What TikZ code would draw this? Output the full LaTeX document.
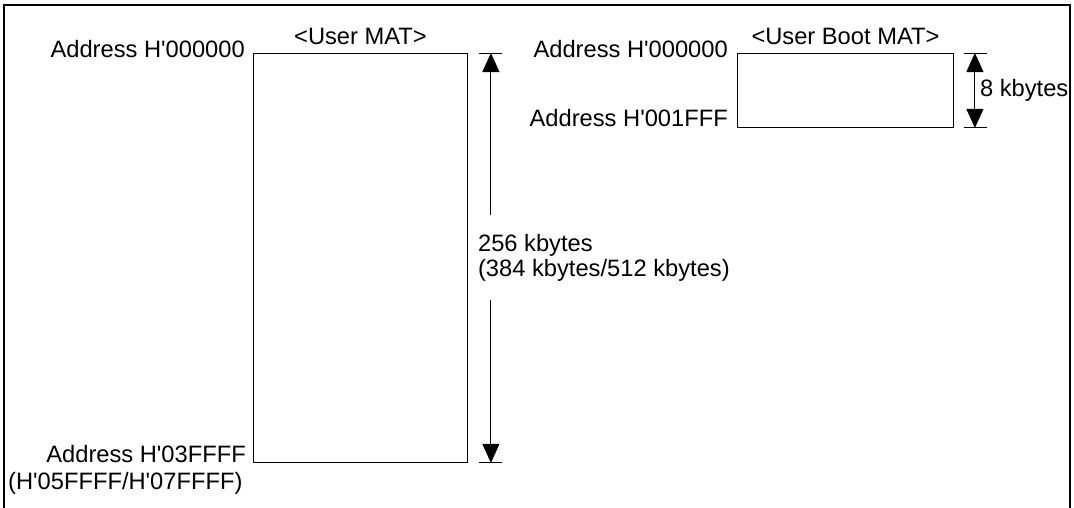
\documentclass[tikz,border=0pt]{standalone}
\usepackage{fontspec}
\setmainfont{Liberation Sans}[Ligatures=TeXOff]
\usetikzlibrary{arrows.meta, positioning, calc}

\begin{document}
\begin{tikzpicture}[
    x=1pt, y=-1pt,
    mat/.style={rectangle, draw=black, line width=0.9pt, inner sep=0pt, anchor=north west, minimum width=#1},
    lbl/.style={font=\fontsize{23.7}{24.5}\selectfont, inner sep=0pt},
    tick/.style={line width=0.9pt, draw=black},
    dim/.style={-{Triangle[length=19pt, width=17pt]}, line width=0.9pt, draw=black},
]
\useasboundingbox (0,0) rectangle (1074,507);
\draw[line width=2pt] (4,530) -- (4,5) -- (1070,5) -- (1070,530);

% user MAT
\node[mat=214pt, minimum height=409pt] (umat) at (253,53) {};
\node[lbl, above=8pt of umat.north] (umatT) {<User MAT>};
\node[lbl, anchor=base east] (uadr0) at ($(umat.north west)+(-8,4)$) {Address H'000000};
\node[lbl, anchor=base east] (uadr1) at ($(umat.south west)+(-7,0)$) {Address H'03FFFF};
\node[lbl, anchor=base west] (uadr1b) at ($(umat.south west)+(-245,27)$) {(H'05FFFF/H'07FFFF)};

% user MAT size
\coordinate (uT) at ($(umat.north east)+(23,0)$);
\coordinate (uB) at ($(umat.south east)+(23,0)$);
\node[lbl, align=left, anchor=west] (usize) at ($(umat.east)+(10,0)$) {256 kbytes\\(384 kbytes/512 kbytes)};
\coordinate (uGapT) at (uT |- usize.north);
\coordinate (uGapB) at (uB |- usize.south);
\draw[tick] ($(uT)+(-12,0)$) -- ($(uT)+(11,0)$);
\draw[tick] ($(uB)+(-12,0)$) -- ($(uB)+(11,0)$);
\draw[dim] ($(uGapT)+(0,-19)$) -- (uT);
\draw[dim] ($(uGapB)+(0,19)$) -- (uB);

% user boot MAT
\node[mat=216pt, minimum height=74pt] (bmat) at (737,53) {};
\node[lbl, above=8pt of bmat.north] (bmatT) {<User Boot MAT>};
\node[lbl, anchor=base east] (badr0) at ($(bmat.north west)+(-9,4)$) {Address H'000000};
\node[lbl, anchor=base east] (badr1) at ($(bmat.south west)+(-9,-1)$) {Address H'001FFF};

% user boot MAT size
\coordinate (bT) at ($(bmat.north east)+(21,0)$);
\coordinate (bB) at ($(bmat.south east)+(21,0)$);
\draw[tick] ($(bT)+(-11,0)$) -- ($(bT)+(12,0)$);
\draw[tick] ($(bB)+(-11,0)$) -- ($(bB)+(12,0)$);
\draw[dim, {Triangle[length=19pt, width=17pt]}-{Triangle[length=19pt, width=17pt]}] (bT) -- (bB);
\node[lbl, anchor=west] (bsize) at ($(bmat.east)+(26,0)$) {8 kbytes};
\end{tikzpicture}
\end{document}
